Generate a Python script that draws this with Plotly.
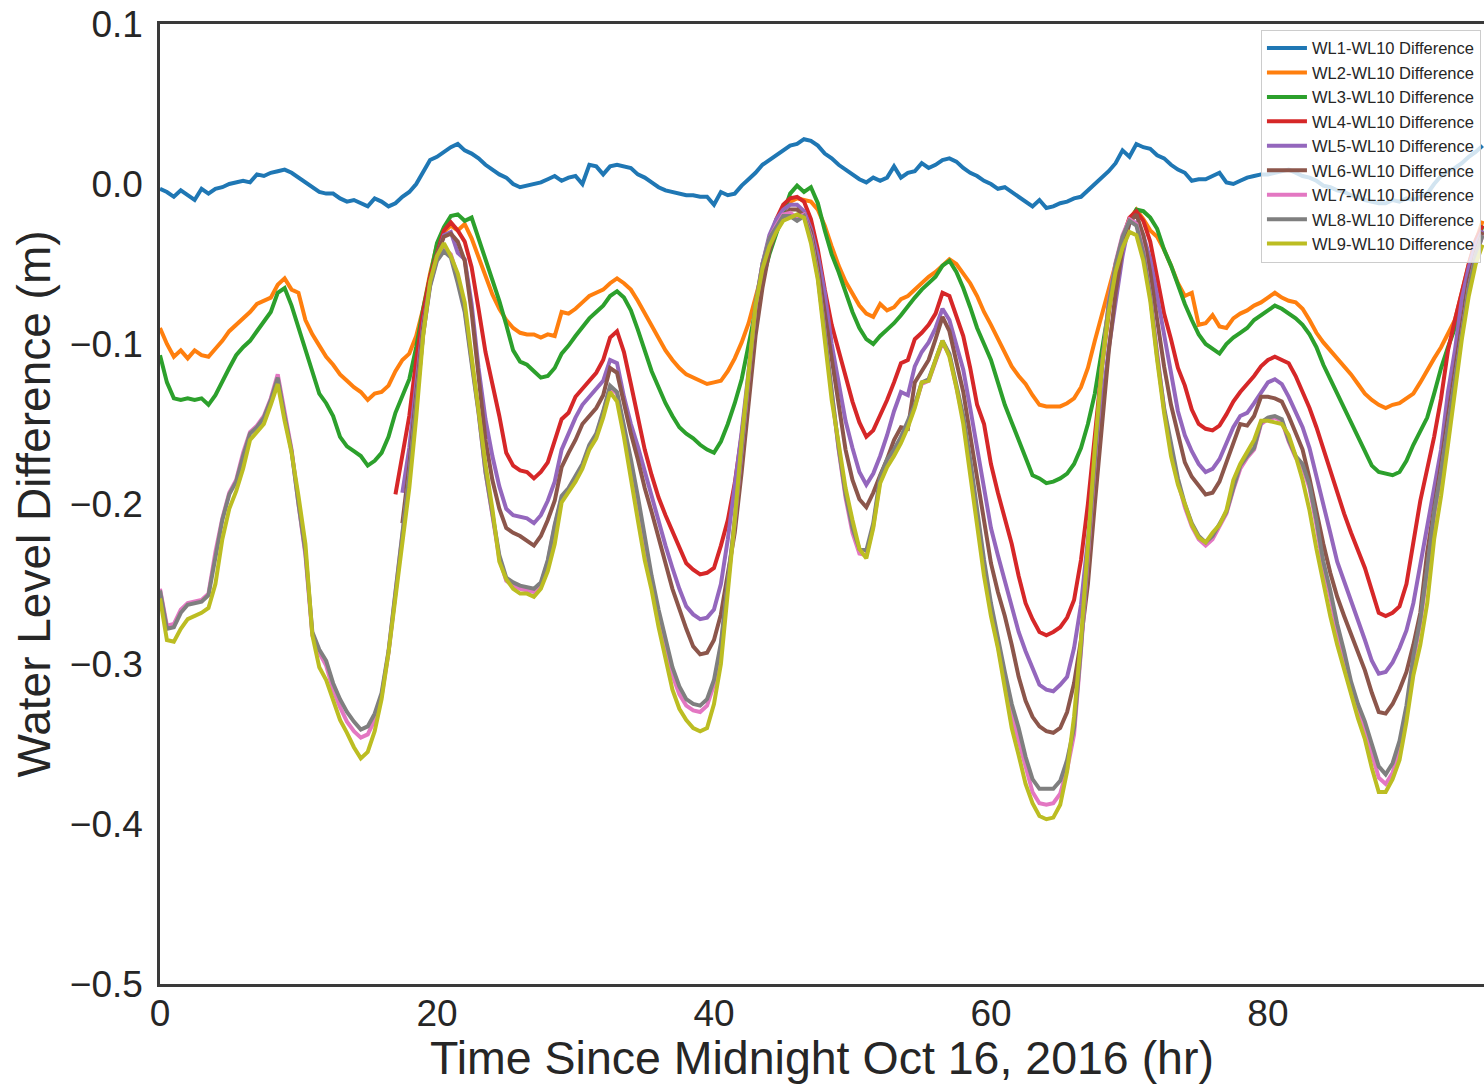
import plotly.graph_objects as go

# time axis: half-hour samples from 0 to 95.5 h
TIME_HR = [h / 2 for h in range(192)]

WL1 = [
    -0.003,-0.005,-0.008,-0.004,-0.007,-0.010,-0.003,-0.006,-0.003,-0.002, 0.000,0.001,0.002,0.001,0.006,0.005,0.007,0.008,0.009,0.007,
    0.004,0.001,-0.002,-0.005,-0.006,-0.006,-0.009,-0.011,-0.010,-0.012, -0.014,-0.009,-0.011,-0.014,-0.012,-0.008,-0.005,0.000,0.008,0.015,
    0.017,0.020,0.023,0.025,0.021,0.019,0.016,0.012,0.009,0.006, 0.004,0.000,-0.002,-0.001,0.000,0.001,0.003,0.005,0.002,0.004,
    0.005,0.000,0.012,0.011,0.006,0.011,0.012,0.011,0.010,0.006, 0.004,0.001,-0.002,-0.004,-0.005,-0.006,-0.007,-0.007,-0.008,-0.008,
    -0.013,-0.005,-0.007,-0.006,-0.001,0.003,0.007,0.012,0.015,0.018, 0.021,0.024,0.025,0.028,0.027,0.024,0.019,0.016,0.012,0.009,
    0.006,0.003,0.001,0.004,0.002,0.004,0.011,0.004,0.007,0.008, 0.013,0.010,0.012,0.015,0.016,0.014,0.010,0.007,0.005,0.002,
    0.000,-0.003,-0.002,-0.005,-0.008,-0.011,-0.014,-0.010,-0.015,-0.014, -0.012,-0.011,-0.009,-0.008,-0.004,0.000,0.004,0.008,0.013,0.021,
    0.017,0.025,0.023,0.022,0.018,0.016,0.012,0.009,0.007,0.002, 0.003,0.003,0.005,0.007,0.001,0.000,0.002,0.004,0.005,0.006,
    0.006,0.007,0.008,0.009,0.007,0.005,0.004,0.002,-0.001,-0.002, -0.004,-0.005,-0.007,-0.008,-0.010,-0.011,-0.012,-0.012,-0.010,-0.011,
    -0.009,-0.010,-0.008,-0.006,0.000,0.005,0.008,0.010,0.013,0.017,0.020,0.024,
]

WL2 = [
    -0.090,-0.100,-0.108,-0.104,-0.109,-0.104,-0.107,-0.108,-0.103,-0.098, -0.092,-0.088,-0.084,-0.080,-0.075,-0.073,-0.071,-0.063,-0.059,-0.066,
    -0.068,-0.085,-0.094,-0.101,-0.108,-0.113,-0.119,-0.123,-0.127,-0.130, -0.135,-0.131,-0.130,-0.126,-0.117,-0.110,-0.106,-0.095,-0.078,-0.056,
    -0.038,-0.030,-0.026,-0.029,-0.025,-0.034,-0.046,-0.058,-0.069,-0.078, -0.085,-0.090,-0.093,-0.094,-0.094,-0.096,-0.094,-0.095,-0.080,-0.081,
    -0.078,-0.074,-0.070,-0.068,-0.066,-0.062,-0.059,-0.062,-0.066,-0.073, -0.081,-0.089,-0.097,-0.104,-0.110,-0.115,-0.119,-0.121,-0.123,-0.125,
    -0.124,-0.123,-0.117,-0.109,-0.099,-0.087,-0.071,-0.055,-0.039,-0.027, -0.017,-0.011,-0.009,-0.010,-0.011,-0.016,-0.026,-0.039,-0.051,-0.061,
    -0.069,-0.076,-0.081,-0.083,-0.075,-0.079,-0.077,-0.072,-0.070,-0.066, -0.062,-0.058,-0.055,-0.051,-0.047,-0.050,-0.056,-0.062,-0.070,-0.080,
    -0.088,-0.097,-0.105,-0.114,-0.120,-0.125,-0.132,-0.138,-0.139,-0.139, -0.139,-0.137,-0.134,-0.127,-0.115,-0.098,-0.082,-0.067,-0.050,-0.034,
    -0.022,-0.016,-0.022,-0.029,-0.033,-0.041,-0.051,-0.062,-0.070,-0.068, -0.088,-0.087,-0.082,-0.089,-0.090,-0.084,-0.081,-0.079,-0.076,-0.074,
    -0.071,-0.068,-0.071,-0.073,-0.074,-0.078,-0.085,-0.093,-0.099,-0.104, -0.109,-0.114,-0.119,-0.125,-0.131,-0.135,-0.138,-0.140,-0.138,-0.137,
    -0.134,-0.131,-0.124,-0.116,-0.109,-0.102,-0.094,-0.085,-0.068,-0.050,-0.036,-0.023,
]

WL3 = [
    -0.107,-0.124,-0.134,-0.135,-0.134,-0.135,-0.134,-0.138,-0.132,-0.123, -0.115,-0.107,-0.102,-0.098,-0.092,-0.086,-0.080,-0.068,-0.065,-0.076,
    -0.090,-0.102,-0.118,-0.131,-0.137,-0.145,-0.158,-0.164,-0.167,-0.170, -0.176,-0.173,-0.168,-0.158,-0.143,-0.133,-0.122,-0.102,-0.078,-0.058,
    -0.037,-0.027,-0.020,-0.019,-0.023,-0.021,-0.034,-0.048,-0.060,-0.073, -0.088,-0.104,-0.111,-0.113,-0.117,-0.121,-0.120,-0.115,-0.106,-0.101,
    -0.095,-0.089,-0.084,-0.080,-0.076,-0.070,-0.067,-0.071,-0.079,-0.091, -0.104,-0.117,-0.127,-0.137,-0.145,-0.152,-0.156,-0.159,-0.163,-0.166,
    -0.168,-0.161,-0.150,-0.137,-0.122,-0.100,-0.079,-0.060,-0.044,-0.031, -0.018,-0.006,-0.001,-0.005,-0.002,-0.012,-0.029,-0.044,-0.055,-0.067,
    -0.080,-0.090,-0.097,-0.100,-0.095,-0.091,-0.087,-0.082,-0.076,-0.071, -0.066,-0.062,-0.058,-0.051,-0.048,-0.055,-0.065,-0.077,-0.090,-0.100,
    -0.110,-0.124,-0.138,-0.149,-0.160,-0.172,-0.182,-0.184,-0.187,-0.186, -0.184,-0.181,-0.175,-0.165,-0.150,-0.131,-0.104,-0.078,-0.055,-0.037,
    -0.024,-0.016,-0.017,-0.021,-0.028,-0.041,-0.051,-0.063,-0.075,-0.085, -0.094,-0.100,-0.103,-0.106,-0.100,-0.096,-0.093,-0.090,-0.085,-0.082,
    -0.079,-0.076,-0.078,-0.081,-0.084,-0.088,-0.094,-0.102,-0.113,-0.122, -0.131,-0.140,-0.150,-0.159,-0.167,-0.176,-0.180,-0.181,-0.182,-0.180,
    -0.173,-0.163,-0.154,-0.146,-0.131,-0.115,-0.102,-0.090,-0.074,-0.057,-0.040,-0.026,
]

WL4_START_HR = 17.0
WL4 = [
    -0.194,-0.170,-0.145,-0.110,-0.080,-0.058,
    -0.043,-0.029,-0.024,-0.029,-0.036,-0.052,-0.078,-0.105,-0.125,-0.145, -0.168,-0.176,-0.179,-0.180,-0.184,-0.180,-0.174,-0.160,-0.147,-0.143,
    -0.133,-0.128,-0.123,-0.118,-0.110,-0.096,-0.092,-0.105,-0.125,-0.145, -0.166,-0.182,-0.196,-0.207,-0.217,-0.228,-0.237,-0.241,-0.244,-0.243,
    -0.240,-0.226,-0.210,-0.187,-0.157,-0.122,-0.090,-0.058,-0.036,-0.022, -0.013,-0.009,-0.008,-0.011,-0.022,-0.041,-0.066,-0.088,-0.104,-0.120,
    -0.136,-0.149,-0.158,-0.154,-0.145,-0.135,-0.124,-0.112,-0.110,-0.097, -0.093,-0.088,-0.081,-0.068,-0.070,-0.083,-0.095,-0.115,-0.138,-0.150,
    -0.175,-0.193,-0.210,-0.225,-0.245,-0.262,-0.272,-0.280,-0.282,-0.280, -0.277,-0.271,-0.260,-0.235,-0.200,-0.158,-0.115,-0.081,-0.052,-0.034,
    -0.021,-0.017,-0.023,-0.036,-0.058,-0.081,-0.097,-0.115,-0.126,-0.141, -0.150,-0.153,-0.154,-0.151,-0.144,-0.136,-0.130,-0.125,-0.120,-0.114,
    -0.110,-0.108,-0.110,-0.112,-0.120,-0.130,-0.140,-0.152,-0.166,-0.180, -0.193,-0.206,-0.218,-0.229,-0.240,-0.254,-0.268,-0.270,-0.268,-0.264,
    -0.250,-0.224,-0.198,-0.178,-0.158,-0.134,-0.104,-0.085,-0.067,-0.050,-0.035,-0.026,
]

WL5_START_HR = 17.5
WL5 = [
    -0.193,-0.165,-0.125,-0.087,-0.063,
    -0.045,-0.032,-0.030,-0.043,-0.047,-0.075,-0.115,-0.147,-0.170,-0.189, -0.203,-0.207,-0.208,-0.209,-0.212,-0.207,-0.198,-0.186,-0.166,-0.156,
    -0.146,-0.138,-0.133,-0.128,-0.123,-0.110,-0.112,-0.133,-0.150,-0.164, -0.180,-0.195,-0.210,-0.226,-0.240,-0.253,-0.264,-0.269,-0.272,-0.271,
    -0.266,-0.250,-0.222,-0.190,-0.155,-0.117,-0.078,-0.050,-0.032,-0.022, -0.016,-0.013,-0.013,-0.017,-0.028,-0.045,-0.068,-0.100,-0.125,-0.148,
    -0.165,-0.180,-0.188,-0.181,-0.170,-0.157,-0.142,-0.130,-0.132,-0.114, -0.105,-0.099,-0.090,-0.078,-0.085,-0.100,-0.116,-0.140,-0.165,-0.188,
    -0.215,-0.232,-0.248,-0.262,-0.280,-0.292,-0.303,-0.313,-0.316,-0.317, -0.313,-0.308,-0.290,-0.263,-0.222,-0.180,-0.140,-0.103,-0.073,-0.045,
    -0.024,-0.024,-0.032,-0.047,-0.070,-0.095,-0.120,-0.142,-0.157,-0.167, -0.175,-0.180,-0.178,-0.172,-0.162,-0.152,-0.145,-0.143,-0.137,-0.130,
    -0.124,-0.122,-0.125,-0.133,-0.142,-0.152,-0.165,-0.182,-0.200,-0.218, -0.236,-0.248,-0.260,-0.272,-0.285,-0.298,-0.306,-0.305,-0.299,-0.290,
    -0.279,-0.262,-0.238,-0.214,-0.190,-0.166,-0.130,-0.104,-0.072,-0.052,-0.038,-0.029,
]

WL6_START_HR = 17.5
WL6 = [
    -0.212,-0.176,-0.132,-0.090,-0.062,
    -0.044,-0.033,-0.031,-0.036,-0.048,-0.080,-0.120,-0.160,-0.185,-0.203, -0.215,-0.218,-0.220,-0.223,-0.226,-0.220,-0.210,-0.198,-0.177,-0.168,
    -0.160,-0.150,-0.145,-0.140,-0.132,-0.115,-0.118,-0.138,-0.156,-0.172, -0.190,-0.205,-0.220,-0.237,-0.253,-0.266,-0.278,-0.289,-0.294,-0.293,
    -0.285,-0.269,-0.245,-0.218,-0.180,-0.138,-0.095,-0.065,-0.042,-0.029, -0.020,-0.016,-0.016,-0.020,-0.030,-0.052,-0.080,-0.110,-0.140,-0.166,
    -0.185,-0.197,-0.202,-0.193,-0.182,-0.172,-0.160,-0.152,-0.153,-0.124, -0.117,-0.110,-0.097,-0.083,-0.092,-0.110,-0.130,-0.157,-0.185,-0.210,
    -0.237,-0.255,-0.270,-0.288,-0.308,-0.323,-0.333,-0.339,-0.342,-0.343, -0.340,-0.330,-0.312,-0.285,-0.250,-0.200,-0.150,-0.105,-0.068,-0.040,
    -0.024,-0.019,-0.032,-0.055,-0.085,-0.114,-0.138,-0.157,-0.174,-0.183, -0.189,-0.194,-0.193,-0.186,-0.174,-0.162,-0.150,-0.151,-0.145,-0.133,
    -0.133,-0.134,-0.136,-0.145,-0.155,-0.166,-0.184,-0.205,-0.225,-0.243, -0.258,-0.270,-0.281,-0.292,-0.304,-0.318,-0.330,-0.331,-0.325,-0.316,
    -0.305,-0.288,-0.268,-0.230,-0.203,-0.175,-0.145,-0.115,-0.088,-0.060,-0.043,-0.030,
]

WL7 = [
    -0.253,-0.276,-0.275,-0.266,-0.262,-0.261,-0.260,-0.256,-0.230,-0.209, -0.193,-0.185,-0.168,-0.155,-0.151,-0.145,-0.134,-0.119,-0.144,-0.166,
    -0.200,-0.232,-0.282,-0.293,-0.301,-0.316,-0.327,-0.336,-0.342,-0.346, -0.344,-0.335,-0.320,-0.293,-0.256,-0.219,-0.183,-0.138,-0.094,-0.063,
    -0.047,-0.040,-0.044,-0.058,-0.078,-0.110,-0.142,-0.180,-0.208,-0.234, -0.248,-0.251,-0.253,-0.254,-0.255,-0.250,-0.236,-0.214,-0.196,-0.191,
    -0.183,-0.176,-0.165,-0.157,-0.143,-0.127,-0.131,-0.152,-0.175,-0.198, -0.224,-0.249,-0.271,-0.290,-0.307,-0.319,-0.326,-0.329,-0.330,-0.326,
    -0.313,-0.289,-0.250,-0.211,-0.166,-0.121,-0.076,-0.050,-0.034,-0.026, -0.019,-0.018,-0.021,-0.019,-0.033,-0.057,-0.092,-0.132,-0.166,-0.196,
    -0.218,-0.231,-0.232,-0.214,-0.185,-0.174,-0.168,-0.160,-0.150,-0.139, -0.125,-0.123,-0.111,-0.099,-0.107,-0.127,-0.147,-0.175,-0.208,-0.238,
    -0.266,-0.290,-0.311,-0.332,-0.348,-0.366,-0.380,-0.387,-0.388,-0.387, -0.381,-0.366,-0.344,-0.292,-0.231,-0.170,-0.115,-0.074,-0.049,-0.032,
    -0.022,-0.025,-0.042,-0.070,-0.108,-0.141,-0.165,-0.186,-0.202,-0.214, -0.222,-0.226,-0.222,-0.214,-0.206,-0.191,-0.178,-0.171,-0.166,-0.150,
    -0.147,-0.146,-0.148,-0.161,-0.171,-0.177,-0.190,-0.213,-0.240,-0.258, -0.280,-0.297,-0.316,-0.330,-0.342,-0.356,-0.371,-0.375,-0.368,-0.353,
    -0.330,-0.298,-0.274,-0.242,-0.207,-0.181,-0.153,-0.123,-0.094,-0.065,-0.045,-0.032,
]

WL8 = [
    -0.254,-0.278,-0.277,-0.268,-0.263,-0.262,-0.261,-0.257,-0.232,-0.210, -0.194,-0.186,-0.170,-0.156,-0.152,-0.146,-0.135,-0.121,-0.145,-0.167,
    -0.200,-0.230,-0.280,-0.291,-0.298,-0.312,-0.322,-0.330,-0.336,-0.341, -0.339,-0.331,-0.318,-0.292,-0.255,-0.218,-0.182,-0.137,-0.094,-0.064,
    -0.048,-0.042,-0.046,-0.062,-0.080,-0.112,-0.143,-0.180,-0.207,-0.232, -0.246,-0.249,-0.251,-0.252,-0.253,-0.249,-0.235,-0.213,-0.195,-0.190,
    -0.182,-0.175,-0.163,-0.156,-0.142,-0.126,-0.130,-0.150,-0.172,-0.195, -0.220,-0.245,-0.266,-0.285,-0.302,-0.314,-0.322,-0.325,-0.326,-0.322,
    -0.310,-0.287,-0.248,-0.210,-0.165,-0.120,-0.075,-0.050,-0.034,-0.027, -0.020,-0.020,-0.023,-0.020,-0.034,-0.058,-0.093,-0.132,-0.165,-0.194,
    -0.215,-0.228,-0.229,-0.212,-0.183,-0.172,-0.166,-0.158,-0.148,-0.138, -0.124,-0.122,-0.110,-0.098,-0.106,-0.125,-0.145,-0.172,-0.205,-0.235,
    -0.262,-0.285,-0.305,-0.325,-0.340,-0.358,-0.372,-0.378,-0.378,-0.378, -0.373,-0.360,-0.340,-0.290,-0.230,-0.170,-0.115,-0.075,-0.050,-0.033,
    -0.023,-0.026,-0.043,-0.070,-0.108,-0.140,-0.163,-0.184,-0.200,-0.212, -0.220,-0.224,-0.220,-0.212,-0.205,-0.190,-0.176,-0.170,-0.165,-0.149,
    -0.146,-0.145,-0.147,-0.160,-0.170,-0.175,-0.188,-0.210,-0.236,-0.254, -0.275,-0.292,-0.311,-0.325,-0.336,-0.350,-0.364,-0.369,-0.362,-0.348,
    -0.326,-0.295,-0.272,-0.240,-0.205,-0.180,-0.152,-0.122,-0.094,-0.065,-0.045,-0.032,
]

WL9 = [
    -0.259,-0.285,-0.286,-0.278,-0.272,-0.270,-0.268,-0.265,-0.250,-0.222, -0.203,-0.192,-0.178,-0.160,-0.155,-0.150,-0.138,-0.125,-0.148,-0.168,
    -0.195,-0.225,-0.282,-0.302,-0.310,-0.322,-0.335,-0.343,-0.352,-0.359, -0.355,-0.342,-0.322,-0.293,-0.258,-0.222,-0.190,-0.146,-0.095,-0.061,
    -0.045,-0.037,-0.045,-0.056,-0.074,-0.108,-0.143,-0.175,-0.203,-0.236, -0.247,-0.253,-0.256,-0.256,-0.258,-0.253,-0.242,-0.225,-0.199,-0.193,
    -0.186,-0.178,-0.166,-0.159,-0.146,-0.130,-0.136,-0.158,-0.185,-0.210, -0.235,-0.254,-0.277,-0.298,-0.316,-0.328,-0.335,-0.340,-0.342,-0.340,
    -0.325,-0.300,-0.258,-0.210,-0.160,-0.115,-0.076,-0.053,-0.039,-0.030, -0.023,-0.021,-0.019,-0.021,-0.037,-0.060,-0.095,-0.135,-0.162,-0.190,
    -0.210,-0.228,-0.234,-0.215,-0.187,-0.177,-0.170,-0.162,-0.152,-0.140, -0.124,-0.123,-0.110,-0.098,-0.108,-0.127,-0.150,-0.182,-0.215,-0.245,
    -0.270,-0.290,-0.315,-0.340,-0.357,-0.375,-0.387,-0.395,-0.397,-0.396, -0.388,-0.367,-0.333,-0.285,-0.225,-0.165,-0.115,-0.080,-0.055,-0.040,
    -0.030,-0.032,-0.048,-0.073,-0.110,-0.143,-0.170,-0.188,-0.200,-0.213, -0.221,-0.224,-0.218,-0.213,-0.204,-0.185,-0.175,-0.168,-0.160,-0.148,
    -0.148,-0.149,-0.150,-0.157,-0.170,-0.185,-0.204,-0.228,-0.250,-0.270, -0.288,-0.303,-0.320,-0.334,-0.347,-0.365,-0.380,-0.380,-0.372,-0.360,
    -0.336,-0.307,-0.288,-0.262,-0.222,-0.195,-0.163,-0.130,-0.097,-0.070,-0.050,-0.038,
]

SERIES_NAMES = [f"WL{i}-WL10 Difference" for i in range(1, 10)]
COLORS = ["#1f77b4", "#ff7f0e", "#2ca02c", "#d62728", "#9467bd",
          "#8c564b", "#e377c2", "#7f7f7f", "#bcbd22"]
X_TICKS = [0, 20, 40, 60, 80]
Y_TICKS = [0.1, 0.0, -0.1, -0.2, -0.3, -0.4, -0.5]

series = [
    (0.0, WL1), (0.0, WL2), (0.0, WL3), (WL4_START_HR, WL4), (WL5_START_HR, WL5),
    (WL6_START_HR, WL6), (0.0, WL7), (0.0, WL8), (0.0, WL9),
]

FONT = "Liberation Sans, Arial, Helvetica, sans-serif"
TEXT_COLOR = "#262626"
SPINE = "#3a3a3a"

fig = go.Figure()
for name, color, (start, vals) in zip(SERIES_NAMES, COLORS, series):
    i0 = int(round(start * 2))
    xs = TIME_HR[i0:i0 + len(vals)]
    fig.add_trace(go.Scatter(x=xs, y=vals, mode="lines", name=name,
                             line=dict(color=color, width=4)))

fig.update_layout(
    width=1484, height=1084,
    margin=dict(l=160, r=0, t=24, b=100, pad=0),
    paper_bgcolor="white", plot_bgcolor="white",
    font=dict(family=FONT, color=TEXT_COLOR),
    showlegend=True,
    legend=dict(
        x=0.9977, xanchor="right", y=0.994, yanchor="top",
        bgcolor="rgba(255,255,255,0.8)", bordercolor="#cccccc", borderwidth=1,
        font=dict(family=FONT, size=16.5, color=TEXT_COLOR),
        tracegroupgap=0, itemwidth=40,
    ),
    xaxis=dict(
        range=[0, 95.6], tickvals=X_TICKS, ticktext=[str(v) for v in X_TICKS],
        showgrid=False, zeroline=False, ticks="",
        showline=True, linecolor=SPINE, linewidth=2.5, mirror=True,
        tickfont=dict(family=FONT, size=37, color=TEXT_COLOR),
        ticklabelstandoff=-5,
        title=dict(text="Time Since Midnight Oct 16, 2016 (hr)",
                   font=dict(family=FONT, size=46.5, color=TEXT_COLOR), standoff=6),
    ),
    yaxis=dict(
        range=[-0.5, 0.1], tickvals=Y_TICKS, tickformat=".1f",
        showgrid=False, zeroline=False, ticks="",
        showline=True, linecolor=SPINE, linewidth=2.5, mirror=False,
        tickfont=dict(family=FONT, size=37, color=TEXT_COLOR),
        ticklabelstandoff=7,
        title=dict(text="Water Level Difference (m)",
                   font=dict(family=FONT, size=46, color=TEXT_COLOR), standoff=5),
    ),
)

fig.write_html("out.html")
